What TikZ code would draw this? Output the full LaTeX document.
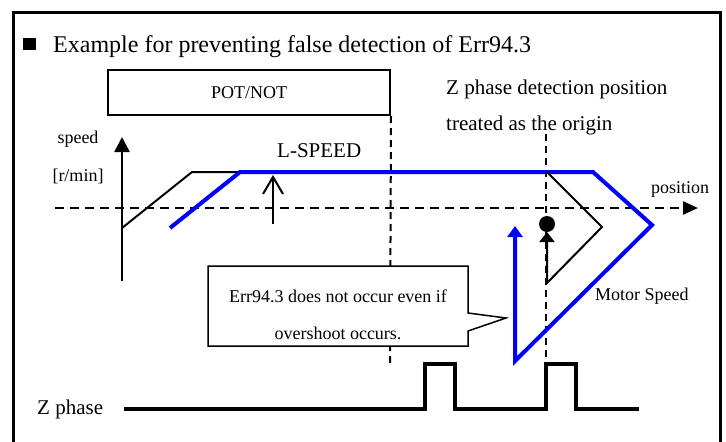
\documentclass[tikz,border=0pt]{standalone}
\usepackage{fontspec}
\setmainfont{Liberation Serif}
\usetikzlibrary{arrows.meta}
\begin{document}
\begin{tikzpicture}[x=1pt,y=-1pt,line join=miter,
  ttl/.style={font=\fontsize{24}{28}\selectfont,inner sep=0pt},
  big/.style={font=\fontsize{21}{24}\selectfont,inner sep=0pt},
  small/.style={font=\fontsize{18}{21}\selectfont,inner sep=0pt},
  vdash/.style={line width=2pt,dash pattern=on 7pt off 5pt},
  hdash/.style={line width=2.6pt,dash pattern=on 9pt off 6pt},
  blk/.style={line width=2pt,black},
  bl/.style={line width=4pt,blue},
  zsig/.style={line width=4pt}]
\useasboundingbox[fill=white] (0,0) rectangle (726,442);
% frame
\draw[line width=3pt] (13,446) -- (13,12) -- (720,12) -- (720,446);
% title
\fill (23,38) rectangle (36,50);
\node[ttl,anchor=base west] (title) at (53,52) {Example for preventing false detection of Err94.3};
% POT/NOT box
\node[draw,line width=2pt,minimum width=282pt,minimum height=45pt,inner sep=0pt,
      font=\fontsize{18}{21}\selectfont] (pot) at (249,92.5) {POT/NOT};
\draw[vdash] (pot.south east) -- (390,363);
% Z phase detection text
\node[big,anchor=base west] (zt1) at (446,94) {Z phase detection position};
\node[big,anchor=base west] (zt2) at (446,130) {treated as the origin};
\draw[vdash] (546,134) -- (546,362);
% axes
\draw[hdash,-{Triangle[length=15pt,width=13pt]}] (55,208) -- (698,208);
\node[small,anchor=base west] (pos) at (651,193) {position};
\draw[line width=2.5pt,-{Triangle[length=15pt,width=15pt]}] (122,281) -- (122,137);
\node[small,anchor=base] (spd) at (78,143) {speed};
\node[small,anchor=base] (unit) at (78,181) {[r/min]};
% L-SPEED
\node[big,anchor=base west] (ls) at (277,157) {L-SPEED};
\draw[line width=2pt,-{Straight Barb[length=17pt,width=20pt,line width=2pt]}] (273,224) -- (273,175);
% black speed command
\draw[blk] (122,228) -- (192,172) -- (240,172);
% blue motor speed
\draw[bl,-{Triangle[length=11pt,width=15pt]}] (170,228) -- (240,172) -- (593,172) -- (652,225) -- (515,361) -- (515,226);
% black overshoot
\draw[blk,-{Triangle[length=10pt,width=15pt]}] (547,172) -- (602,227) -- (547,283) -- (547,232);
\fill (547,224) circle (8pt);
% callout
\draw[line width=1.5pt,fill=white] (208,266) -- (468,266) -- (468,313) -- (506,318) -- (468,331) -- (468,346) -- (208,346) -- cycle;
\node[small,anchor=base] (c1) at (338,302) {Err94.3 does not occur even if};
\node[small,anchor=base] (c2) at (338,339) {overshoot occurs.};
\node[small,anchor=base west] (ms) at (595,300) {Motor Speed};
% Z phase
\node[big,anchor=base west] (zp) at (37,414) {Z phase};
\draw[zsig] (124,409) -- (425,409) -- (425,364) -- (455,364) -- (455,409) -- (546,409) -- (546,364) -- (576,364) -- (576,409) -- (639,409);
\end{tikzpicture}
\end{document}
